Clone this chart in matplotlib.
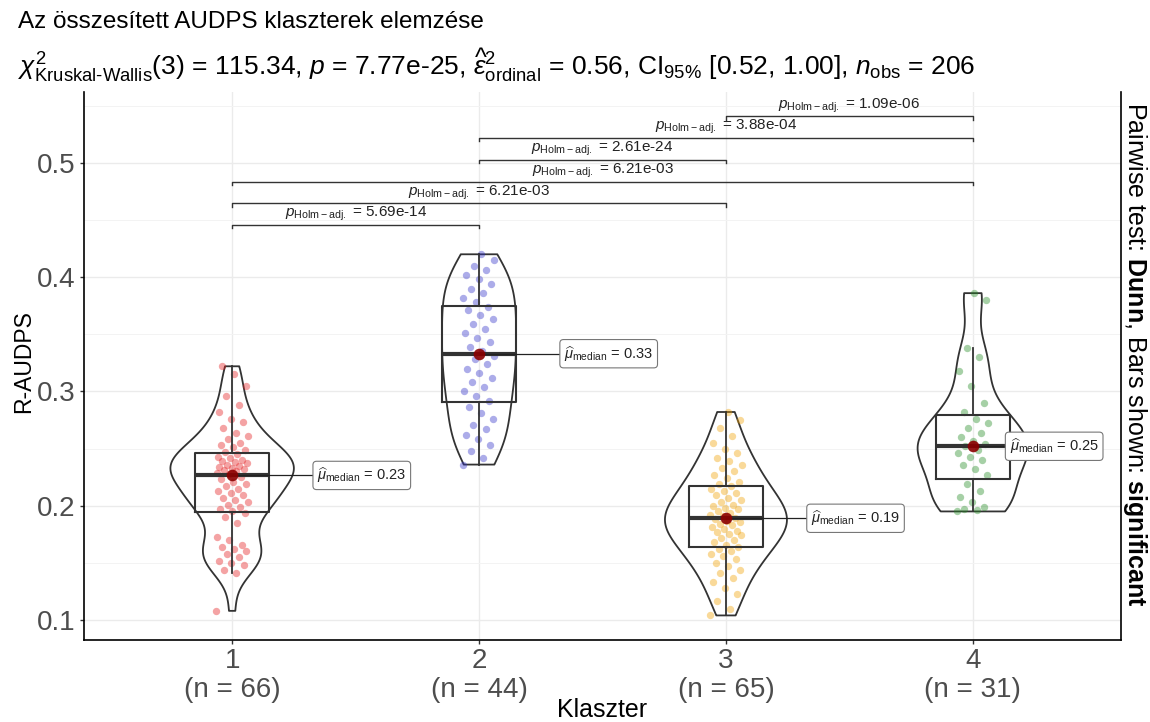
import numpy as np
import matplotlib
matplotlib.use("Agg")
import matplotlib.pyplot as plt

plt.rcParams['font.family'] = ['Liberation Sans', 'DejaVu Sans']
plt.rcParams['mathtext.fontset'] = 'custom'
plt.rcParams['mathtext.rm'] = 'Liberation Sans'
plt.rcParams['mathtext.it'] = 'Liberation Sans:italic'
plt.rcParams['mathtext.bf'] = 'Liberation Sans:bold'
plt.rcParams['mathtext.sf'] = 'Liberation Sans'

# ----------------------
# R-AUDPS values per cluster
# ----------------------
klaszterek = ["1", "2", "3", "4"]

klaszter_1 = [0.108, 0.141, 0.144, 0.148, 0.150, 0.152, 0.155, 0.158, 0.160, 0.162,
              0.164, 0.166, 0.170, 0.173, 0.185, 0.190,
              0.194, 0.195, 0.197, 0.199, 0.201, 0.203, 0.205, 0.207, 0.209, 0.211,
              0.213, 0.215, 0.217, 0.219, 0.221, 0.223, 0.225,
              0.228, 0.229, 0.230, 0.231, 0.232, 0.233, 0.234, 0.235, 0.236, 0.237,
              0.238, 0.239, 0.240, 0.242, 0.243, 0.245,
              0.247, 0.249, 0.251, 0.253, 0.255, 0.258, 0.261, 0.264, 0.268, 0.273,
              0.276, 0.282, 0.288, 0.296, 0.305, 0.315, 0.322]

klaszter_2 = [0.236, 0.242, 0.248, 0.253, 0.258, 0.262, 0.267, 0.271, 0.276, 0.281, 0.286,
              0.292, 0.296, 0.300, 0.304, 0.308, 0.312, 0.316, 0.320, 0.324, 0.328, 0.331,
              0.335, 0.339, 0.343, 0.347, 0.351, 0.355, 0.359, 0.363, 0.367, 0.371, 0.374,
              0.378, 0.382, 0.386, 0.390, 0.394, 0.398, 0.402, 0.406, 0.410, 0.415, 0.420]

klaszter_3 = [0.104, 0.110, 0.117, 0.123, 0.128, 0.133, 0.137, 0.141, 0.144, 0.147,
              0.150, 0.153, 0.156, 0.158, 0.160, 0.162, 0.164,
              0.166, 0.168, 0.170, 0.172, 0.174, 0.175, 0.177, 0.178, 0.180, 0.181,
              0.183, 0.184, 0.186, 0.187, 0.188, 0.189,
              0.191, 0.192, 0.194, 0.195, 0.197, 0.198, 0.200, 0.201, 0.203, 0.205,
              0.207, 0.209, 0.211, 0.213, 0.215, 0.217,
              0.219, 0.221, 0.224, 0.227, 0.230, 0.233, 0.236, 0.239, 0.242, 0.246,
              0.250, 0.255, 0.261, 0.268, 0.275, 0.282]

klaszter_4 = [0.195, 0.196, 0.197, 0.199, 0.203, 0.208, 0.213, 0.219,
              0.227, 0.232, 0.236, 0.240, 0.243, 0.246, 0.249, 0.252,
              0.254, 0.257, 0.260, 0.264, 0.268, 0.272, 0.276,
              0.282, 0.290, 0.305, 0.318, 0.330, 0.338, 0.380, 0.386]

adatok = [klaszter_1, klaszter_2, klaszter_3, klaszter_4]
pont_szinek = ["#E41A1C", "#3030C8", "#F0A000", "#228B22"]

# Dunn pairwise test, Holm-adjusted p-values (only significant bars shown)
parok = [(1, 2), (1, 3), (1, 4), (2, 3), (2, 4), (3, 4)]
p_holm = [5.69e-14, 6.21e-03, 6.21e-03, 2.61e-24, 3.88e-04, 1.09e-06]

cim = "Az összesített AUDPS klaszterek elemzése"
alcim = (r"$\chi^{2}_{\mathrm{Kruskal\text{-}Wallis}}$(3) = 115.34, $\mathit{p}$ = 7.77e-25, "
         r"$\widehat{\varepsilon}^{2}_{\mathrm{ordinal}}$ = 0.56, CI$_{95\%}$ [0.52, 1.00], "
         r"$\mathit{n}_{\mathrm{obs}}$ = 206")
jobb_felirat = r"Pairwise test: $\mathbf{Dunn}$, Bars shown: $\mathbf{significant}$"


def kde_r(values, n_grid=512):
    # gaussian KDE with R's bw.nrd0, trimmed to the data range
    x = np.asarray(values, dtype=float)
    sd = x.std(ddof=1)
    q1, q3 = np.percentile(x, [25, 75])
    bw = 0.9 * min(sd, (q3 - q1) / 1.34) * len(x) ** -0.2
    grid = np.linspace(x.min(), x.max(), n_grid)
    z = (grid[:, None] - x[None, :]) / bw
    dens = np.exp(-0.5 * z ** 2).sum(axis=1) / (len(x) * bw * np.sqrt(2 * np.pi))
    return grid, dens


def main():
    fig = plt.figure(figsize=(11.5, 7.22), dpi=100)
    ax = fig.add_axes([84 / 1150, 1 - 640 / 722, 1037 / 1150, 548 / 722])

    pos = np.arange(1, len(adatok) + 1)
    edge = "#333333"

    # violins (scale = "area": common max density, width 0.5)
    dens_list = [kde_r(d) for d in adatok]
    dmax = max(dd.max() for _, dd in dens_list)
    for g, (grid, dens) in zip(pos, dens_list):
        hw = dens / dmax * 0.25
        ax.fill_betweenx(grid, g - hw, g + hw, facecolor="none",
                         edgecolor=edge, lw=1.3, zorder=2)

    # jittered points
    for g, d, c in zip(pos, adatok, pont_szinek):
        d = np.asarray(d)
        off = ((np.arange(len(d)) * 0.6180339887) % 1.0 - 0.5) * 0.13
        ax.scatter(g + off, d, s=28, color=c, alpha=0.4, lw=0, zorder=3)

    # boxes
    ax.boxplot(adatok, positions=pos, widths=0.3, whis=1.5, showfliers=False,
               showcaps=False, manage_ticks=False,
               boxprops=dict(color=edge, lw=1.5),
               whiskerprops=dict(color=edge, lw=1.3),
               medianprops=dict(color=edge, lw=3),
               zorder=4)

    # medians with labels
    labels = []
    for g, d in zip(pos, adatok):
        m = float(np.median(d))
        lx = g + 0.345
        ln, = ax.plot([g, lx], [m, m], color="#222222", lw=0.9, zorder=5)
        ax.scatter([g], [m], s=70, color="#8B0000", alpha=0.9, lw=0, zorder=6)
        t = ax.text(lx, m, r"$\widehat{\mu}_{\mathrm{median}}$ = " + f"{m:.2f}",
                    ha="left", va="center", fontsize=10.5, color="#222222", zorder=7,
                    bbox=dict(boxstyle="round,pad=0.3,rounding_size=0.25",
                              fc="white", ec="#777777", lw=0.8))
        labels.append((t, ln, g, m))

    # significance bars
    y0, step, tip = 0.4456, 0.0190, 0.0028
    for i, ((a, b), p) in enumerate(zip(parok, p_holm)):
        y = y0 + i * step
        ax.plot([a, a, b, b], [y - tip, y, y, y - tip], color=edge, lw=1.0, zorder=3)
        ax.text((a + b) / 2, y + 0.0015,
                r"$\mathit{p}_{\mathrm{Holm-adj.}}$ = " + f"{p:.2e}",
                ha="center", va="bottom", fontsize=11, color="#222222", zorder=3)

    ax.set_xlim(0.4, 4.6)
    ax.set_ylim(0.0825, 0.562)
    ax.set_xticks(pos)
    ax.set_xticklabels([f"{k}\n(n = {len(d)})" for k, d in zip(klaszterek, adatok)],
                       linespacing=1.12)
    ax.set_yticks([0.1, 0.2, 0.3, 0.4, 0.5])
    ax.set_yticks(np.arange(0.15, 0.56, 0.1), minor=True)
    ax.tick_params(axis="both", which="major", labelsize=20, labelcolor="#4D4D4D",
                   color=edge, length=3, width=1, pad=3)
    ax.tick_params(axis="y", which="minor", length=0)
    ax.grid(True, which="major", color="#EBEBEB", lw=1.0, zorder=0)
    ax.grid(True, which="minor", axis="y", color="#F3F3F3", lw=0.7, zorder=0)
    ax.set_axisbelow(True)
    for s in ["left", "bottom", "right"]:
        ax.spines[s].set_color("black")
        ax.spines[s].set_linewidth(1.2)
    ax.spines["top"].set_visible(False)

    # keep the median labels inside the panel
    fig.canvas.draw()
    ax_right = ax.get_window_extent().x1
    inv = ax.transData.inverted()
    for t, ln, g, m in labels:
        bb = t.get_bbox_patch().get_window_extent()
        over = bb.x1 - (ax_right - 18)
        if over > 0:
            x_px = ax.transData.transform((t.get_position()[0], m))[0] - over
            nx = inv.transform((x_px, 0))[0]
            t.set_x(nx)
            ln.set_xdata([g, nx])

    fig.text(18 / 1150, 1 - 22 / 722, cim, ha="left", va="center", fontsize=17.5)
    fig.text(18 / 1150, 1 - 65 / 722, alcim, ha="left", va="center", fontsize=19)
    fig.text(24 / 1150, 1 - 362 / 722, "R-AUDPS", rotation=90, ha="center",
             va="center", fontsize=16.5)
    fig.text(602 / 1150, 1 - 710 / 722, "Klaszter", ha="center", va="center",
             fontsize=18)
    fig.text(1135 / 1150, 1 - 354 / 722, jobb_felirat, rotation=270, ha="center",
             va="center", fontsize=18)

    fig.savefig("out.png", dpi=100)
    plt.close(fig)


if __name__ == "__main__":
    main()
